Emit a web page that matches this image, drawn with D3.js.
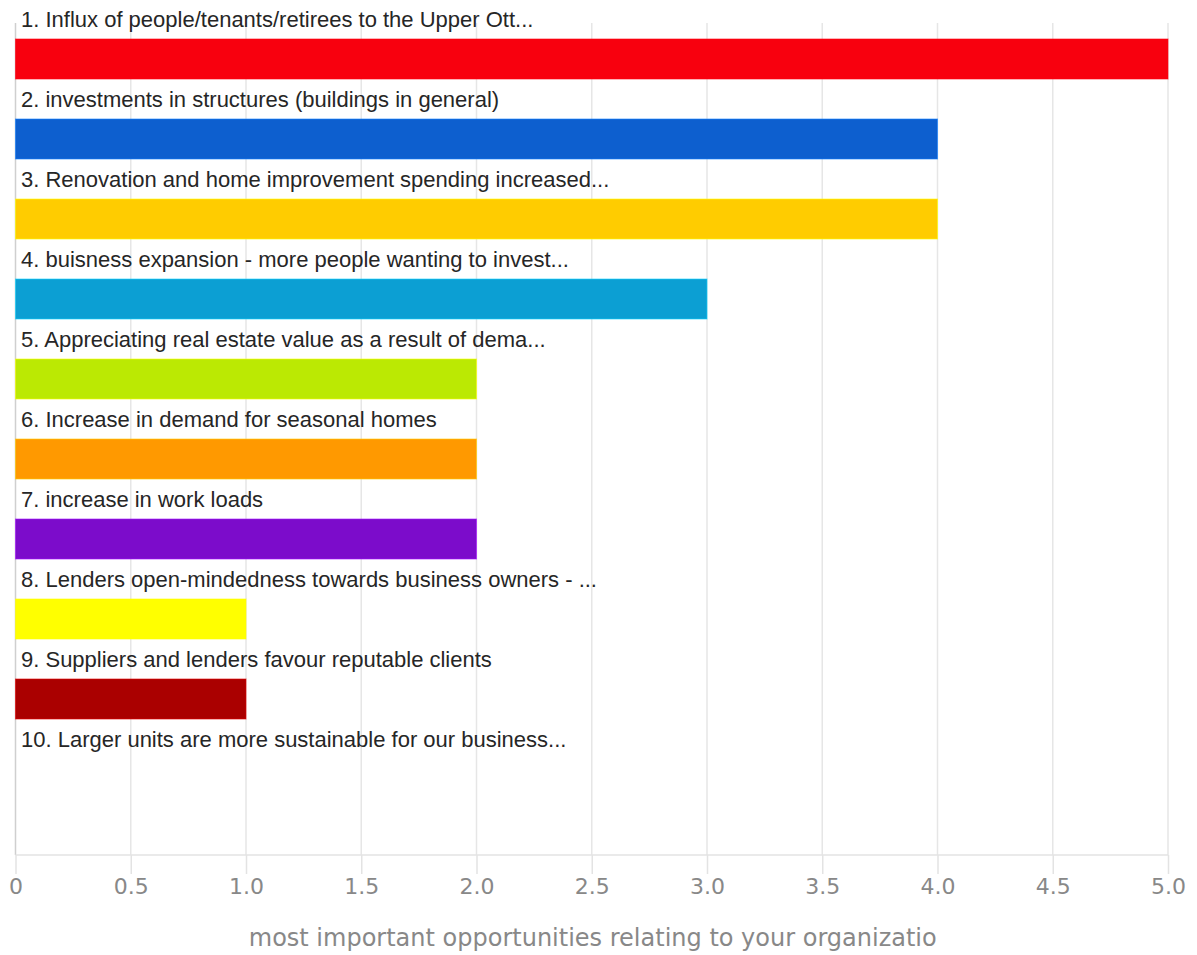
<!DOCTYPE html>
<html>
<head>
<meta charset="utf-8">
<script src="https://cdn.jsdelivr.net/npm/d3@7"></script>
<style>
  html, body { margin: 0; padding: 0; background: #fff; }
  svg { display: block; }
</style>
</head>
<body>
<svg id="chart" width="1197" height="955"></svg>
<script>
// Opportunity categories, scores and colours
const categories = [
  "1. Influx of people/tenants/retirees to the Upper Ott...",
  "2. investments in structures (buildings in general)",
  "3. Renovation and home improvement spending increased...",
  "4. buisness expansion - more people wanting to invest...",
  "5. Appreciating real estate value as a result of dema...",
  "6. Increase in demand for seasonal homes",
  "7. increase in work loads",
  "8. Lenders open-mindedness towards business owners - ...",
  "9. Suppliers and lenders favour reputable clients",
  "10. Larger units are more sustainable for our business..."
];
const values = [5, 4, 4, 3, 2, 2, 2, 1, 1, 0];
const colors = ["#f8000e", "#0d5fcf", "#ffcc00", "#0c9fd3", "#bbe903",
                "#ff9900", "#7c0ccb", "#ffff00", "#aa0000", "#cccccc"];
const tickValues = [0, 0.5, 1, 1.5, 2, 2.5, 3, 3.5, 4, 4.5, 5];
const axisTitle = "most important opportunities relating to your organizatio";

const svg = d3.select("#chart");
const plotLeft = 15.5, plotRight = 1168, plotTop = 23, plotBottom = 855;

const x = d3.scaleLinear().domain([0, 5]).range([plotLeft, plotRight]);
const y = d3.scaleBand().domain(categories).range([19, 819]).paddingInner(0);

// vertical gridlines
svg.append("g").selectAll("line").data(tickValues).join("line")
  .attr("x1", d => x(d)).attr("x2", d => x(d))
  .attr("y1", plotTop).attr("y2", plotBottom)
  .attr("stroke", d => d === 0 ? "#cfcfcf" : "#e6e6e6")
  .attr("stroke-width", 1.5);

// bottom axis
const axis = d3.axisBottom(x).tickValues(tickValues)
  .tickFormat(d => d === 0 ? "0" : d3.format(".1f")(d))
  .tickSize(19).tickPadding(4);
const ga = svg.append("g").attr("transform", `translate(0,${plotBottom})`).call(axis);
ga.attr("font-family", "'DejaVu Sans'").attr("font-size", 22);
ga.select(".domain").attr("stroke", "#e3e3e3").attr("stroke-width", 1.5)
  .attr("d", `M${plotLeft},0H${plotRight}`);
ga.selectAll(".tick line").attr("stroke", "#e3e3e3").attr("stroke-width", 1.5);
ga.selectAll(".tick text").attr("fill", "#888");

// bars
const data = categories.map((c, i) => ({ c, v: values[i], col: colors[i] }));
svg.append("g").selectAll("rect").data(data.filter(d => d.v > 0)).join("rect")
  .attr("x", x(0))
  .attr("y", d => y(d.c) + 20)
  .attr("width", d => x(d.v) - x(0))
  .attr("height", 40)
  .attr("fill", d => d.col)
  .attr("stroke", d => d3.color(d.col).brighter(0.8))
  .attr("stroke-opacity", 0.6)
  .attr("stroke-width", 1);

// category labels above each bar
svg.append("g").selectAll("text").data(data).join("text")
  .attr("x", 21)
  .attr("y", d => y(d.c) + 8)
  .attr("fill", "#262626")
  .attr("font-family", "'Liberation Sans', Arial, sans-serif")
  .attr("font-size", 22)
  .text(d => d.c);

// axis title
svg.append("text")
  .attr("x", (plotLeft + plotRight) / 2 + 1)
  .attr("y", 946)
  .attr("text-anchor", "middle")
  .attr("fill", "#888")
  .attr("font-family", "'DejaVu Sans'")
  .attr("font-size", 24)
  .text(axisTitle);
</script>
</body>
</html>
